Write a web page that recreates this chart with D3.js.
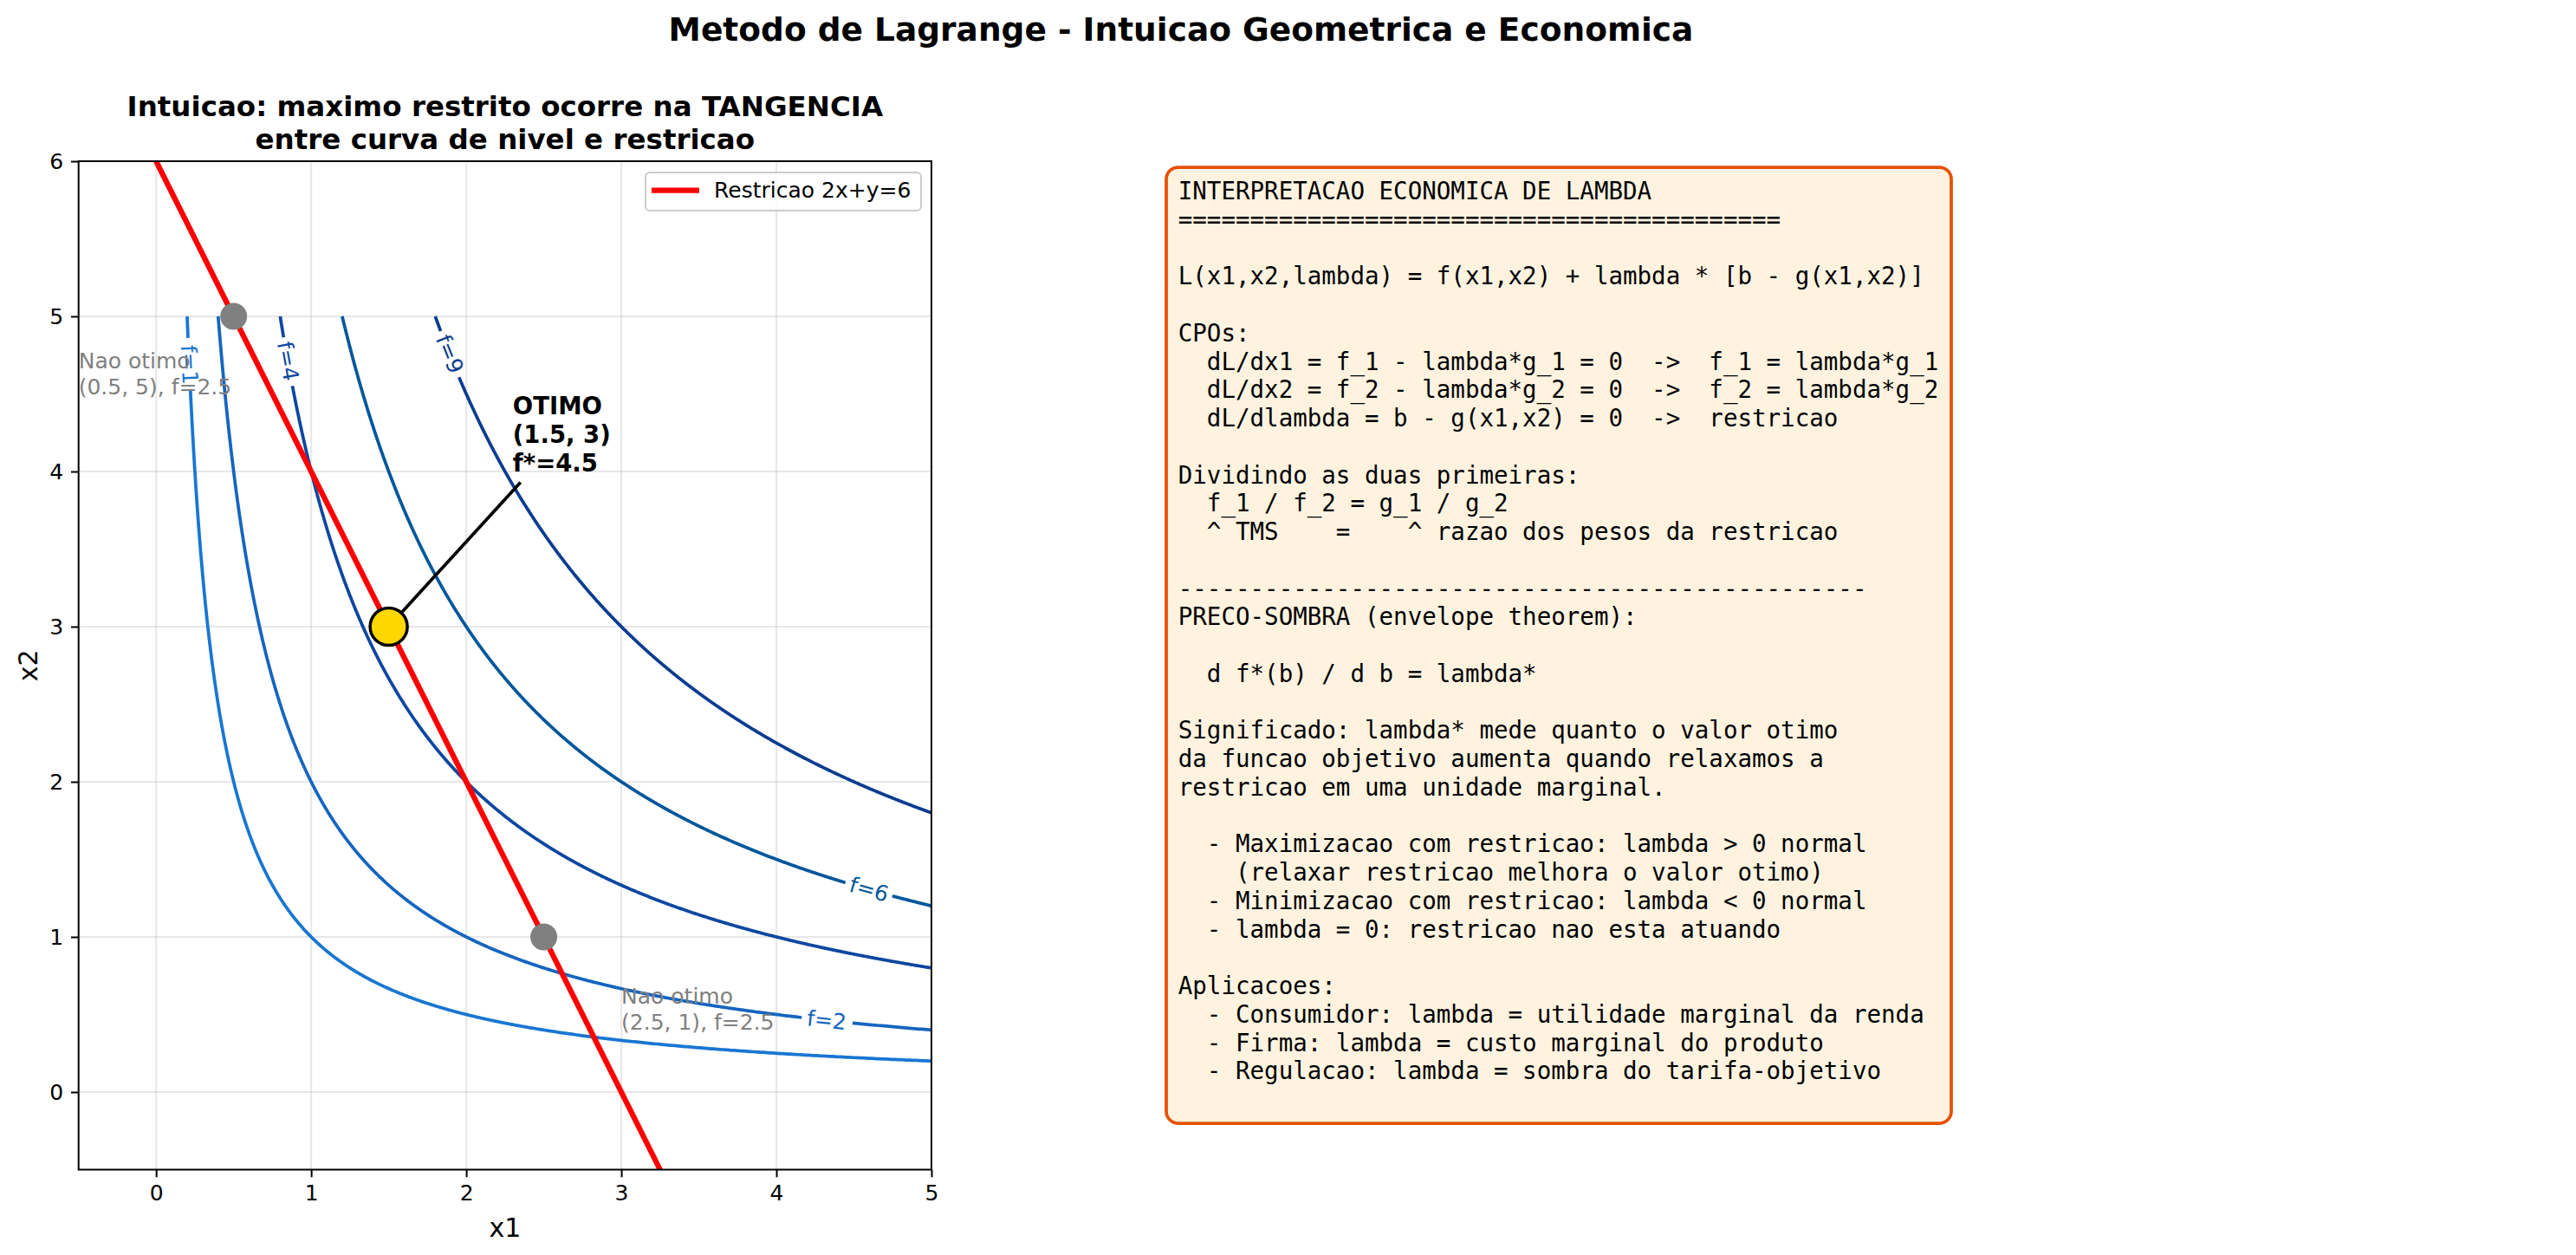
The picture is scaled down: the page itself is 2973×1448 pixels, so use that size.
<!DOCTYPE html>
<html>
<head>
<meta charset="utf-8">
<script src="https://cdn.jsdelivr.net/npm/d3@7"></script>
<style>
body { margin: 0; background: #fff; }
text { font-family: "DejaVu Sans", sans-serif; }
</style>
</head>
<body>
<script>
var PT = 180 / 72; // px per point

// ---- data ----
var levels = [1, 2, 4, 6, 9];
var levelColors = ["#1976D2", "#1565C0", "#0D47A1", "#01579B", "#0B3C8F"];
var levelLabelX = [0.213, 4.32, 0.849, 4.6, 1.891]; // where clabel sits on each curve
var gridRange = [0.1, 5]; // contour grid x1, x2
var constraint = [2, 1, 6]; // 2*x1 + 1*x2 = 6
var constraintX = [0, 3.5];
var optimum = [1.5, 3];
var optArrowFrom = [2.35, 3.93];
var optLabel = ["OTIMO", "(1.5, 3)", "f*=4.5"];
var optLabelPos = [2.3, 4.0];
var otherPts = [[0.5, 5], [2.5, 1]];
var otherLabels = [["Nao otimo", "(0.5, 5), f=2.5"], ["Nao otimo", "(2.5, 1), f=2.5"]];
var otherLabelPos = [[-0.5, 4.5], [3.0, 0.4]];
var xTicks = [0, 1, 2, 3, 4, 5];
var yTicks = [0, 1, 2, 3, 4, 5, 6];
var legendLabel = "Restricao 2x+y=6";

var boxLines = [
	"INTERPRETACAO ECONOMICA DE LAMBDA",
	"==========================================",
	"",
	"L(x1,x2,lambda) = f(x1,x2) + lambda * [b - g(x1,x2)]",
	"",
	"CPOs:",
	"  dL/dx1 = f_1 - lambda*g_1 = 0  ->  f_1 = lambda*g_1",
	"  dL/dx2 = f_2 - lambda*g_2 = 0  ->  f_2 = lambda*g_2",
	"  dL/dlambda = b - g(x1,x2) = 0  ->  restricao",
	"",
	"Dividindo as duas primeiras:",
	"  f_1 / f_2 = g_1 / g_2",
	"  ^ TMS    =    ^ razao dos pesos da restricao",
	"",
	"------------------------------------------------",
	"PRECO-SOMBRA (envelope theorem):",
	"",
	"  d f*(b) / d b = lambda*",
	"",
	"Significado: lambda* mede quanto o valor otimo",
	"da funcao objetivo aumenta quando relaxamos a",
	"restricao em uma unidade marginal.",
	"",
	"  - Maximizacao com restricao: lambda > 0 normal",
	"    (relaxar restricao melhora o valor otimo)",
	"  - Minimizacao com restricao: lambda < 0 normal",
	"  - lambda = 0: restricao nao esta atuando",
	"",
	"Aplicacoes:",
	"  - Consumidor: lambda = utilidade marginal da renda",
	"  - Firma: lambda = custo marginal do produto",
	"  - Regulacao: lambda = sombra do tarifa-objetivo"
];

function objective(x1, x2) { return x1 * x2; }

// ---- layout ----
var W = 2973, H = 1448;
var ax = { left: 90.7, right: 1075, top: 186, bottom: 1349.5 };

var svg = d3.select("body").append("svg")
	.attr("width", W)
	.attr("height", H);

var x = d3.scaleLinear().domain([-0.5, 5]).range([ax.left, ax.right]);
var y = d3.scaleLinear().domain([-0.5, 6]).range([ax.bottom, ax.top]);

svg.append("text")
	.attr("x", 1363).attr("y", 47)
	.attr("text-anchor", "middle")
	.attr("font-weight", "bold")
	.attr("font-size", 15 * PT)
	.text("Metodo de Lagrange - Intuicao Geometrica e Economica");

var subTitle = ["Intuicao: maximo restrito ocorre na TANGENCIA", "entre curva de nivel e restricao"];
svg.append("text")
	.attr("text-anchor", "middle")
	.attr("font-weight", "bold")
	.attr("font-size", 13 * PT)
	.selectAll("tspan").data(subTitle).join("tspan")
	.attr("x", (ax.left + ax.right) / 2)
	.attr("y", function (d, i) { return 134 + i * 37.5; })
	.text(function (d) { return d; });

svg.append("defs").append("clipPath").attr("id", "plotclip")
	.append("rect")
	.attr("x", ax.left).attr("y", ax.top)
	.attr("width", ax.right - ax.left).attr("height", ax.bottom - ax.top);

// grid
var grid = svg.append("g").attr("stroke", "#b0b0b0").attr("stroke-opacity", 0.3).attr("stroke-width", 0.8 * PT);
grid.selectAll(".gx").data(xTicks).join("line")
	.attr("x1", x).attr("x2", x).attr("y1", ax.top).attr("y2", ax.bottom);
grid.selectAll(".gy").data(yTicks).join("line")
	.attr("y1", y).attr("y2", y).attr("x1", ax.left).attr("x2", ax.right);

var plot = svg.append("g").attr("clip-path", "url(#plotclip)");

// level curves f(x1,x2) = c with inline labels
var line = d3.line().x(function (d) { return d[0]; }).y(function (d) { return d[1]; });
var N = 800;
levels.forEach(function (c, k) {
	var x0 = Math.log(c / gridRange[1]), x1 = Math.log(gridRange[1]);
	var pts = d3.range(N + 1).map(function (i) {
		var xv = Math.exp(x0 + (x1 - x0) * i / N);
		// solve objective(xv, yv) = c for yv
		var yv = c / objective(xv, 1);
		return [x(xv), y(yv), xv];
	});
	var s = [0];
	for (var i = 1; i < pts.length; i++) {
		s.push(s[i - 1] + Math.hypot(pts[i][0] - pts[i - 1][0], pts[i][1] - pts[i - 1][1]));
	}
	var li = d3.minIndex(pts, function (p) { return Math.abs(p[2] - levelLabelX[k]); });
	var lp = pts[li];
	var a = pts[Math.max(li - 3, 0)], b = pts[Math.min(li + 3, N)];
	var ang = Math.atan2(b[1] - a[1], b[0] - a[0]) * 180 / Math.PI;
	if (ang > 90) ang -= 180;
	if (ang <= -90) ang += 180;

	var lbl = svg.append("text")
		.attr("font-size", 10 * PT)
		.attr("fill", levelColors[k])
		.attr("text-anchor", "middle")
		.attr("dominant-baseline", "central")
		.attr("transform", "translate(" + lp[0] + "," + lp[1] + ") rotate(" + ang + ")")
		.text("f=" + c);
	var half = lbl.node().getComputedTextLength() / 2 + 5;

	var before = pts.filter(function (p, i) { return s[i] < s[li] - half; });
	var after = pts.filter(function (p, i) { return s[i] > s[li] + half; });
	[before, after].forEach(function (seg) {
		if (seg.length > 1) {
			plot.append("path")
				.attr("d", line(seg))
				.attr("fill", "none")
				.attr("stroke", levelColors[k])
				.attr("stroke-width", 1.5 * PT);
		}
	});
});

// constraint line
plot.append("path")
	.attr("d", line(constraintX.map(function (xv) {
		return [x(xv), y((constraint[2] - constraint[0] * xv) / constraint[1])];
	})))
	.attr("stroke", "#ff0000")
	.attr("stroke-width", 2.5 * PT)
	.attr("fill", "none");

// annotation line to the optimum
svg.append("line")
	.attr("x1", x(optArrowFrom[0])).attr("y1", y(optArrowFrom[1]))
	.attr("x2", x(optimum[0])).attr("y2", y(optimum[1]))
	.attr("stroke", "#000").attr("stroke-width", 1.5 * PT);

// points
svg.selectAll(".other").data(otherPts).join("circle")
	.attr("cx", function (d) { return x(d[0]); })
	.attr("cy", function (d) { return y(d[1]); })
	.attr("r", 15.5)
	.attr("fill", "#808080");

svg.append("circle")
	.attr("cx", x(optimum[0])).attr("cy", y(optimum[1]))
	.attr("r", 21.5)
	.attr("fill", "#FFD700")
	.attr("stroke", "#000")
	.attr("stroke-width", 1.4 * PT);

// texts
otherLabels.forEach(function (lines, k) {
	var lh = 10 * PT * 1.2;
	svg.append("text")
		.attr("font-size", 10 * PT)
		.attr("fill", "#808080")
		.selectAll("tspan").data(lines).join("tspan")
		.attr("x", x(otherLabelPos[k][0]))
		.attr("y", function (d, i) { return y(otherLabelPos[k][1]) - (lines.length - 1 - i) * lh; })
		.text(function (d) { return d; });
});

svg.append("text")
	.attr("font-size", 11 * PT)
	.attr("font-weight", "bold")
	.selectAll("tspan").data(optLabel).join("tspan")
	.attr("x", x(optLabelPos[0]))
	.attr("y", function (d, i) { return y(optLabelPos[1]) - (optLabel.length - 1 - i) * 11 * PT * 1.2; })
	.text(function (d) { return d; });

// axes
var xAxis = svg.append("g")
	.attr("transform", "translate(0," + ax.bottom + ")")
	.call(d3.axisBottom(x).tickValues(xTicks).tickFormat(d3.format("d")).tickSize(3.5 * PT).tickPadding(3.5 * PT).tickSizeOuter(0));
var yAxis = svg.append("g")
	.attr("transform", "translate(" + ax.left + ",0)")
	.call(d3.axisLeft(y).tickValues(yTicks).tickFormat(d3.format("d")).tickSize(3.5 * PT).tickPadding(3.5 * PT).tickSizeOuter(0));
[xAxis, yAxis].forEach(function (g) {
	g.select(".domain").remove();
	g.selectAll("line").attr("stroke", "#000").attr("stroke-width", 0.8 * PT);
	g.selectAll("text").attr("font-size", 10 * PT).attr("fill", "#000")
		.attr("font-family", "DejaVu Sans");
});

svg.append("rect")
	.attr("x", ax.left).attr("y", ax.top)
	.attr("width", ax.right - ax.left).attr("height", ax.bottom - ax.top)
	.attr("fill", "none").attr("stroke", "#000").attr("stroke-width", 0.8 * PT);

svg.append("text")
	.attr("x", (ax.left + ax.right) / 2).attr("y", 1427)
	.attr("text-anchor", "middle")
	.attr("font-size", 12 * PT)
	.text("x1");
svg.append("text")
	.attr("transform", "translate(43," + (ax.top + ax.bottom) / 2 + ") rotate(-90)")
	.attr("text-anchor", "middle")
	.attr("font-size", 12 * PT)
	.text("x2");

// legend
var leg = svg.append("g");
leg.append("rect")
	.attr("x", 745).attr("y", 199).attr("width", 318).attr("height", 44)
	.attr("rx", 5)
	.attr("fill", "#fff").attr("fill-opacity", 0.8)
	.attr("stroke", "#cccccc").attr("stroke-width", 0.8 * PT);
leg.append("line")
	.attr("x1", 752).attr("x2", 807).attr("y1", 219.5).attr("y2", 219.5)
	.attr("stroke", "#ff0000").attr("stroke-width", 2.5 * PT);
leg.append("text")
	.attr("x", 824).attr("y", 228)
	.attr("font-size", 10 * PT)
	.text(legendLabel);

// explanation box
var box = { x: 1346, y: 193, w: 906, h: 1103 };
svg.append("rect")
	.attr("x", box.x).attr("y", box.y).attr("width", box.w).attr("height", box.h)
	.attr("rx", 13.75)
	.attr("fill", "#FFF3E0")
	.attr("stroke", "#E65100")
	.attr("stroke-width", 1.5 * PT);
svg.append("text")
	.attr("font-size", 11 * PT)
	.attr("xml:space", "preserve")
	.style("white-space", "pre")
	.style("font-family", "'DejaVu Sans Mono', monospace")
	.selectAll("tspan").data(boxLines).join("tspan")
	.attr("x", box.x + 13.75)
	.attr("y", function (d, i) { return 230 + i * 32.75; })
	.text(function (d) { return d; });
</script>
</body>
</html>
